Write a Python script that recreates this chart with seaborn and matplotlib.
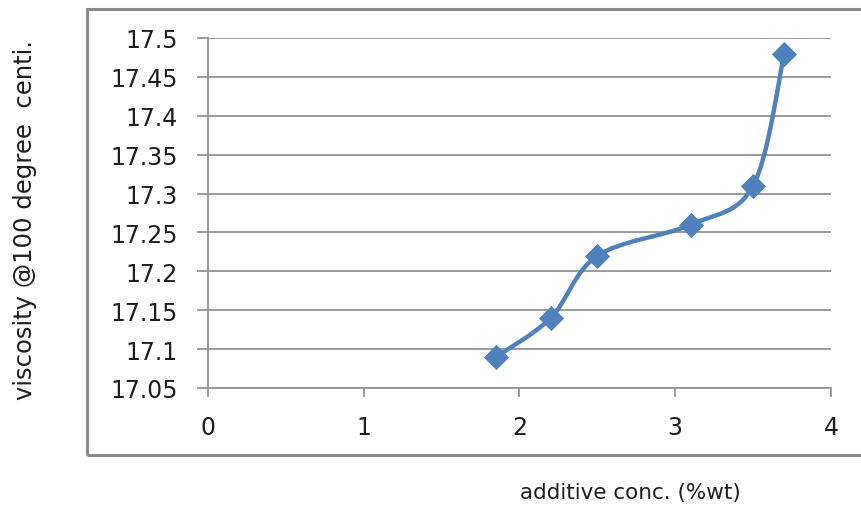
import numpy as np
import matplotlib
matplotlib.use("Agg")
import matplotlib.pyplot as plt
from matplotlib.path import Path
from matplotlib.patches import PathPatch, Rectangle
import seaborn as sns
import pandas as pd

# Measured data
additive_conc = [1.85, 2.2, 2.5, 3.1, 3.5, 3.7]
viscosity = [17.09, 17.14, 17.22, 17.26, 17.31, 17.48]
x_ticks = [0, 1, 2, 3, 4]
y_ticks = [17.05, 17.1, 17.15, 17.2, 17.25, 17.3, 17.35, 17.4, 17.45, 17.5]
y_tick_labels = ["17.05", "17.1", "17.15", "17.2", "17.25", "17.3",
                 "17.35", "17.4", "17.45", "17.5"]

BLUE = "#4F81BD"
GRID = "#939393"
TEXT = "#1E1E1E"

sns.set_theme(style="white")
plt.rcParams["font.family"] = ["DejaVu Sans"]

df = pd.DataFrame({"conc": additive_conc, "visc": viscosity})

fig = plt.figure(figsize=(8.62, 5.10), dpi=100)
ax = fig.add_axes([208 / 862, 1 - 389 / 510, (831 - 208) / 862, (389 - 39) / 510])

# Outer chart-area frame
fig.patches.append(Rectangle((87 / 862, 1 - 456 / 510), 1.0, (456 - 10) / 510,
                             transform=fig.transFigure, fill=False,
                             edgecolor="#8A8A8A", linewidth=2.2, zorder=0))

# Smoothed connecting line (cubic Bezier through the points)
xs = np.array(additive_conc)
ys = np.array(viscosity)
n = len(xs)
verts = [(xs[0], ys[0])]
codes = [Path.MOVETO]
t = 1 / 6
for i in range(n - 1):
    p0 = np.array([xs[max(i - 1, 0)], ys[max(i - 1, 0)]])
    p1 = np.array([xs[i], ys[i]])
    p2 = np.array([xs[i + 1], ys[i + 1]])
    p3 = np.array([xs[min(i + 2, n - 1)], ys[min(i + 2, n - 1)]])
    c1 = p1 + (p2 - p0) * t
    c2 = p2 - (p3 - p1) * t
    verts += [tuple(c1), tuple(c2), tuple(p2)]
    codes += [Path.CURVE4] * 3
ax.add_patch(PathPatch(Path(verts, codes), facecolor="none", edgecolor=BLUE,
                       linewidth=3.2, capstyle="round", joinstyle="round", zorder=3))

sns.scatterplot(data=df, x="conc", y="visc", ax=ax, marker="D", s=165,
                color=BLUE, edgecolor=BLUE, linewidth=0, zorder=4, legend=False)

ax.set_xlim(0, 4)
ax.set_ylim(17.05, 17.5)
ax.set_xticks(x_ticks)
ax.set_xticklabels([str(v) for v in x_ticks])
ax.set_yticks(y_ticks)
ax.set_yticklabels(y_tick_labels)

ax.yaxis.grid(True, color=GRID, linewidth=1.3)
ax.xaxis.grid(False)
ax.set_axisbelow(True)
for side in ["top", "right"]:
    ax.spines[side].set_visible(False)
for side in ["left", "bottom"]:
    ax.spines[side].set_color(GRID)
    ax.spines[side].set_linewidth(1.3)

ax.tick_params(axis="y", which="major", direction="out", length=8, width=1.3,
               color=GRID, pad=14, labelsize=17, labelcolor=TEXT, left=True)
ax.tick_params(axis="x", which="major", direction="out", length=6.5, width=1.3,
               color=GRID, pad=13, labelsize=17, labelcolor=TEXT, bottom=True)

ax.set_xlabel("")
ax.set_ylabel("")
fig.text(630 / 862, 1 - 493 / 510, "additive conc. (%wt)", ha="center", va="center",
         fontsize=15.5, color=TEXT)
fig.text(25 / 862, 1 - 220 / 510, "viscosity @100 degree  centi.", ha="center",
         va="center", rotation=90, fontsize=17.5, color=TEXT)

fig.savefig("out.png", dpi=100)
